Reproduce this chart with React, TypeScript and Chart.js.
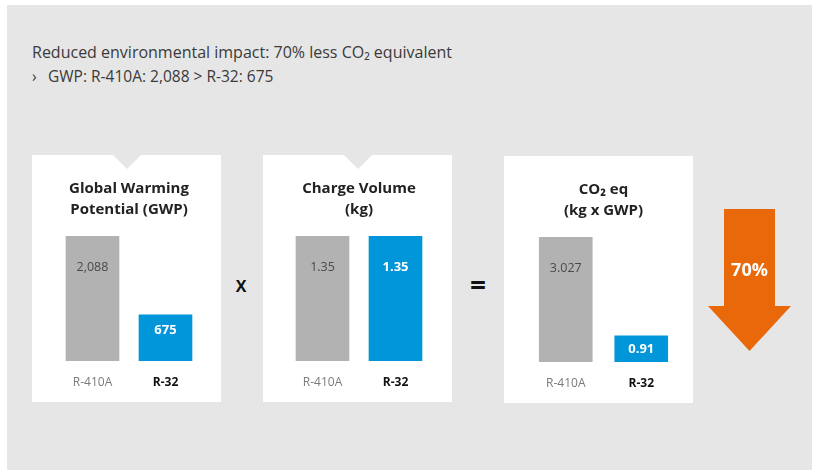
import React, { useEffect, useRef } from "react";
import { Chart, registerables } from "chart.js";

Chart.register(...registerables);

// ---- data ----
const categories = ["R-410A", "R-32"];
const gwpValues = [2088, 675];
const gwpValueLabels = ["2,088", "675"];
const chargeValues = [1.35, 1.35];
const chargeValueLabels = ["1.35", "1.35"];
const co2Values = [3.027, 0.91];
const co2ValueLabels = ["3.027", "0.91"];
const panelTitles = [
  ["Global Warming", "Potential (GWP)"],
  ["Charge Volume", "(kg)"],
  ["CO₂ eq", "(kg x GWP)"],
];
// the infographic is not drawn to scale: hidden value-axis floor per panel
const valueAxisFloor = [-150, 0, 0.35];
const headerLine1 = "Reduced environmental impact: 70% less CO₂ equivalent";
const headerLine2 = "GWP: R-410A: 2,088 > R-32: 675";
const reductionLabel = "70%";

// ---- styles ----
const BG = "#e6e6e6";
const GRAY = "#b2b2b2";
const BLUE = "#0096d9";
const ORANGE = "#e8680a";
const FONT = "'Open Sans', 'Noto Sans', sans-serif";

const valueLabelPlugin = {
  id: "valueLabels",
  afterDatasetsDraw(chart: any) {
    const ctx = chart.ctx;
    const meta = chart.getDatasetMeta(0);
    const labels: string[] = chart.options.plugins.valueLabels.labels;
    meta.data.forEach((el: any, i: number) => {
      const top = Math.min(el.y, el.base);
      const h = Math.abs(el.base - el.y);
      let y: number;
      if (h > 60) y = top + 31;
      else if (h > 35) y = top + 15;
      else y = top + h / 2;
      ctx.save();
      ctx.textAlign = "center";
      ctx.textBaseline = "middle";
      if (i === 0) {
        ctx.font = `normal 12.5px ${FONT}`;
        ctx.fillStyle = "#4a4a4a";
      } else {
        ctx.font = `bold 13px ${FONT}`;
        ctx.fillStyle = "#ffffff";
      }
      ctx.fillText(labels[i], el.x, y);
      ctx.restore();
    });
  },
};

type PanelProps = {
  left: number;
  top: number;
  title: string[];
  values: number[];
  valueLabels: string[];
  floor: number;
  padLeft: number;
  padRight: number;
  notch: boolean;
};

const PANEL_W = 189;
const PANEL_H = 247;

function Panel(p: PanelProps) {
  const ref = useRef<HTMLCanvasElement | null>(null);
  useEffect(() => {
    if (!ref.current) return;
    const chart = new Chart(ref.current, {
      type: "bar",
      data: {
        labels: categories,
        datasets: [
          {
            data: p.values,
            backgroundColor: [GRAY, BLUE],
            borderWidth: 0,
            barThickness: 53,
            base: p.floor,
          } as any,
        ],
      },
      options: {
        animation: false,
        responsive: false,
        layout: { padding: { left: p.padLeft, right: p.padRight, top: 0, bottom: 13 } },
        plugins: {
          legend: { display: false },
          tooltip: { enabled: false },
          title: {
            display: true,
            text: p.title,
            color: "#222222",
            font: { family: FONT, size: 15, weight: "bold", lineHeight: 1.4 },
            padding: { top: 23, bottom: 16 },
          },
          valueLabels: { labels: p.valueLabels },
        } as any,
        scales: {
          x: {
            grid: { display: false, drawTicks: false },
            border: { display: false },
            afterFit: (scale: any) => {
              scale.height = 28;
            },
            ticks: {
              padding: 14,
              font: (c: any) => ({
                family: FONT,
                size: 12,
                weight: c.index === 1 ? "bold" : "normal",
              }),
              color: (c: any) => (c.index === 1 ? "#111111" : "#7a7a7a"),
            },
          },
          y: {
            display: false,
            min: p.floor,
            max: Math.max(...p.values),
          },
        },
      },
      plugins: [valueLabelPlugin],
    });
    return () => chart.destroy();
  }, []);
  return (
    <div
      style={{
        position: "absolute",
        left: p.left,
        top: p.top,
        width: PANEL_W,
        height: PANEL_H,
        background: "#ffffff",
      }}
    >
      <canvas ref={ref} width={PANEL_W} height={PANEL_H} style={{ display: "block" }} />
      {p.notch && (
        <svg
          width={28}
          height={15}
          style={{ position: "absolute", left: PANEL_W / 2 - 14, top: 0 }}
        >
          <polygon points="0,0 28,0 14,14" fill={BG} />
        </svg>
      )}
    </div>
  );
}

export default function App() {
  return (
    <div
      style={{
        position: "absolute",
        left: 0,
        top: 0,
        width: 819,
        height: 470,
        overflow: "hidden",
        background: "#ffffff",
        fontFamily: FONT,
      }}
    >
      <div
        style={{
          position: "absolute",
          left: 7,
          top: 5,
          width: 805,
          height: 465,
          background: BG,
        }}
      />
      <div
        style={{
          position: "absolute",
          left: 32,
          top: 40,
          fontSize: 15.5,
          lineHeight: "24px",
          color: "#3a3a3a",
          whiteSpace: "nowrap",
        }}
      >
        <div style={{ fontSize: 16 }}>{headerLine1}</div>
        <div>
          <span style={{ display: "inline-block", width: 16 }}>›</span>
          {headerLine2}
        </div>
      </div>

      <Panel
        left={32}
        top={155}
        title={panelTitles[0]}
        values={gwpValues}
        valueLabels={gwpValueLabels}
        floor={valueAxisFloor[0]}
        padLeft={24}
        padRight={19}
        notch={true}
      />
      <Panel
        left={263}
        top={155}
        title={panelTitles[1]}
        values={chargeValues}
        valueLabels={chargeValueLabels}
        floor={valueAxisFloor[1]}
        padLeft={23}
        padRight={20}
        notch={true}
      />
      <Panel
        left={504}
        top={156}
        title={panelTitles[2]}
        values={co2Values}
        valueLabels={co2ValueLabels}
        floor={valueAxisFloor[2]}
        padLeft={24}
        padRight={14}
        notch={false}
      />

      <div
        style={{
          position: "absolute",
          left: 230,
          top: 274,
          width: 22,
          textAlign: "center",
          fontWeight: "bold",
          fontSize: 16,
          lineHeight: "24px",
          color: "#111",
        }}
      >
        X
      </div>
      <div
        style={{
          position: "absolute",
          left: 466,
          top: 266,
          width: 24,
          textAlign: "center",
          fontWeight: "bold",
          fontSize: 28,
          lineHeight: "36px",
          color: "#111",
        }}
      >
        =
      </div>

      <svg
        width={819}
        height={470}
        style={{ position: "absolute", left: 0, top: 0, pointerEvents: "none" }}
      >
        <polygon
          points="724,209 775,209 775,306 791,306 749.5,351 708,306 724,306"
          fill={ORANGE}
        />
        <text
          x={749.5}
          y={276}
          textAnchor="middle"
          fill="#ffffff"
          fontWeight="bold"
          fontSize={18}
          fontFamily="'Open Sans', sans-serif"
        >
          {reductionLabel}
        </text>
      </svg>
    </div>
  );
}
